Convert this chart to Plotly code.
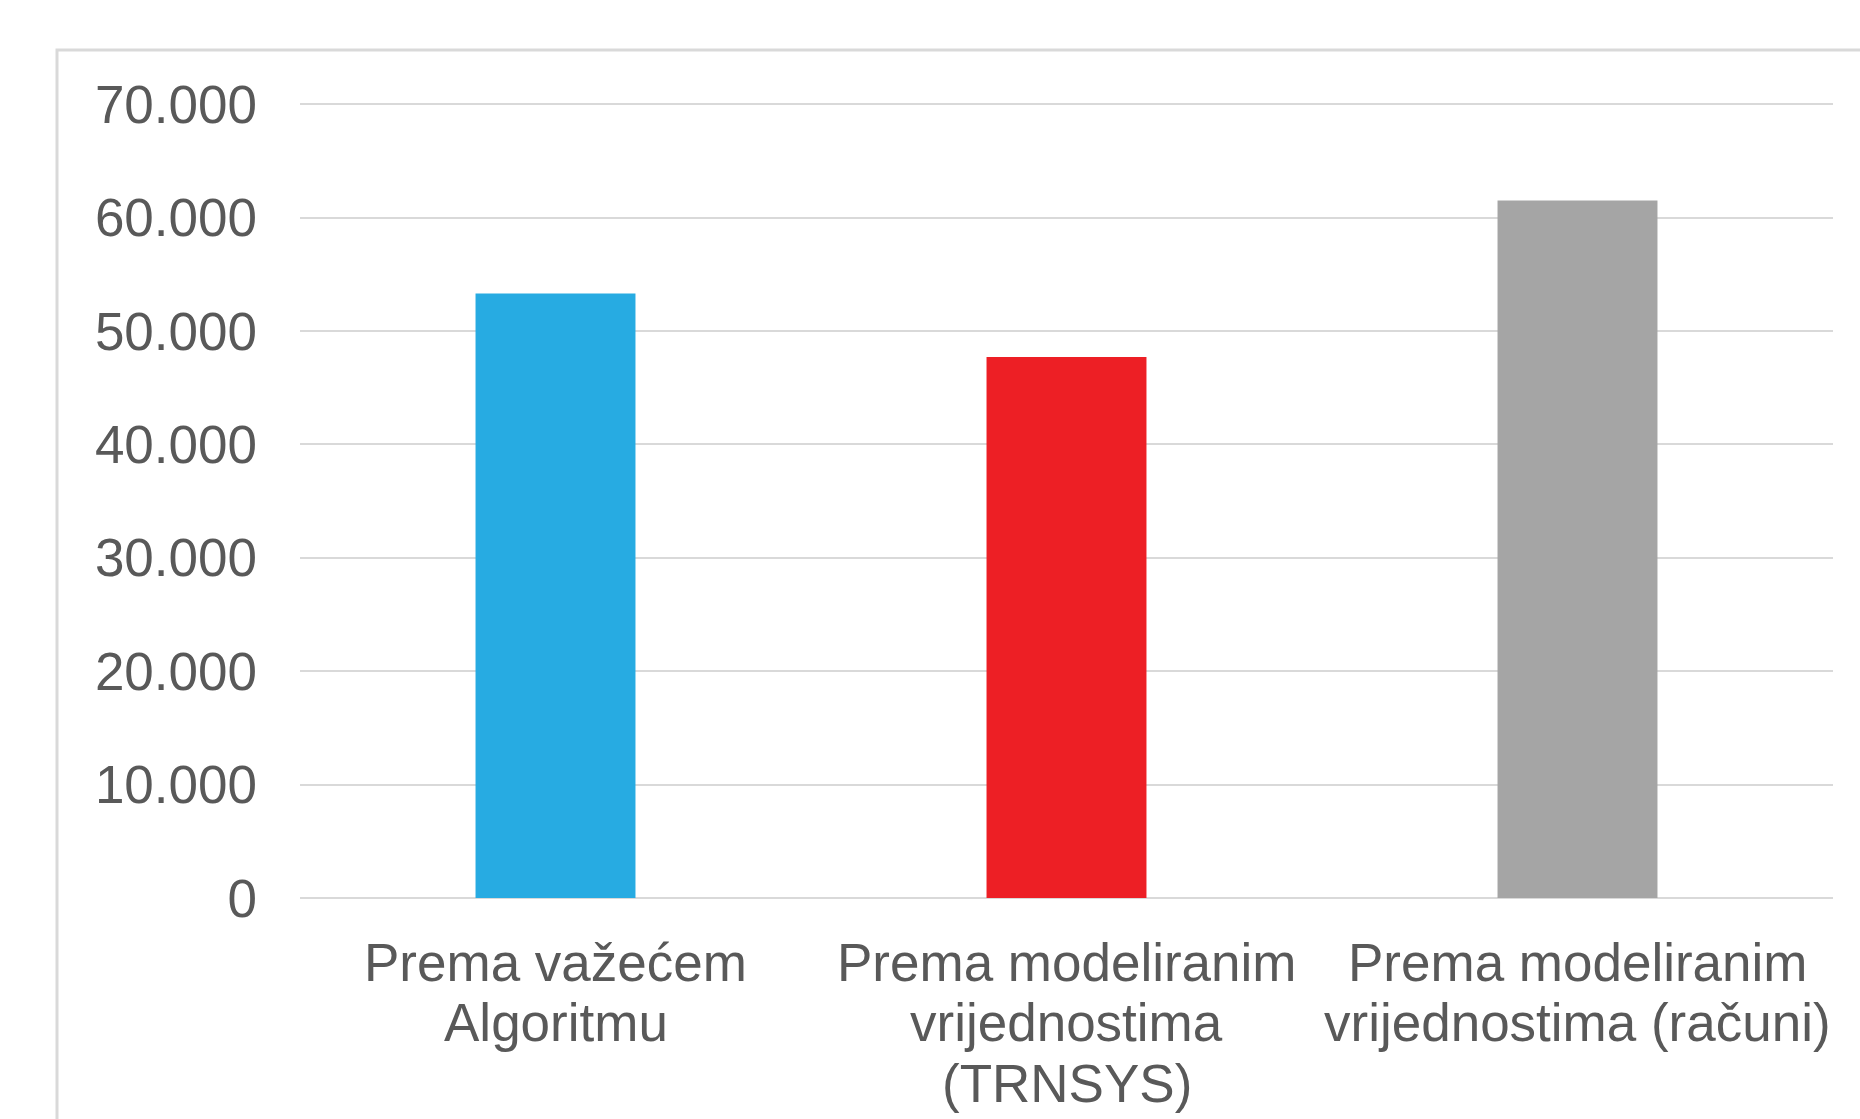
import plotly.graph_objects as go

# Category labels (split into display lines) and values
categories = ["Prema važećem Algoritmu",
              "Prema modeliranim vrijednostima (TRNSYS)",
              "Prema modeliranim vrijednostima (računi)"]
label_lines = [["Prema važećem", "Algoritmu"],
               ["Prema modeliranim", "vrijednostima", "(TRNSYS)"],
               ["Prema modeliranim", "vrijednostima (računi)"]]
values = [53300, 47700, 61500]
bar_colors = ["#27ABE2", "#ED1F25", "#A5A5A5"]
y_ticks = [0, 10000, 20000, 30000, 40000, 50000, 60000, 70000]

W, H = 1860, 1119
M_L, M_R, M_T, M_B = 300, 27, 103, 221
plot_w = W - M_L - M_R
plot_h = H - M_T - M_B

font_family = "Liberation Sans, Arial, sans-serif"
text_color = "#595959"
grid_color = "#D9D9D9"

fig = go.Figure(go.Bar(
    x=categories,
    y=values,
    marker=dict(color=bar_colors, line=dict(width=0)),
    width=0.313,
))

# Multi-line category labels under each bar
line_offsets = [64, 124, 185]
annotations = []
for cat, lines in zip(categories, label_lines):
    for i, txt in enumerate(lines):
        annotations.append(dict(
            x=cat, xref="x", y=0, yref="paper",
            yanchor="middle", yshift=-line_offsets[i],
            text=txt, showarrow=False,
            font=dict(family=font_family, size=53, color=text_color),
        ))

# Outer chart frame (extends past the right and bottom edges)
def px_to_paper_x(px):
    return (px - M_L) / plot_w

def px_to_paper_y(py):
    return (H - M_B - py) / plot_h

frame = dict(
    type="rect", xref="paper", yref="paper",
    x0=px_to_paper_x(57), x1=px_to_paper_x(2000),
    y0=px_to_paper_y(1300), y1=px_to_paper_y(50),
    line=dict(color=grid_color, width=3),
    fillcolor="rgba(0,0,0,0)", layer="below",
)

fig.update_layout(
    width=W, height=H,
    margin=dict(l=M_L, r=M_R, t=M_T, b=M_B, pad=0),
    paper_bgcolor="white", plot_bgcolor="white",
    separators=",.",
    showlegend=False,
    font=dict(family=font_family, color=text_color),
    annotations=annotations,
    shapes=[frame],
    xaxis=dict(showticklabels=False, showgrid=False, zeroline=False,
               showline=False, ticks=""),
    # small headroom above 70.000 so its gridline is drawn
    yaxis=dict(range=[0, 70100], tickvals=y_ticks, tickformat=",d",
               showgrid=True, gridcolor=grid_color, gridwidth=2,
               zeroline=True, zerolinecolor=grid_color, zerolinewidth=2,
               showline=False, ticks="",
               ticklabelstandoff=42,
               tickfont=dict(family=font_family, size=53, color=text_color)),
)

fig.write_html("out.html")
